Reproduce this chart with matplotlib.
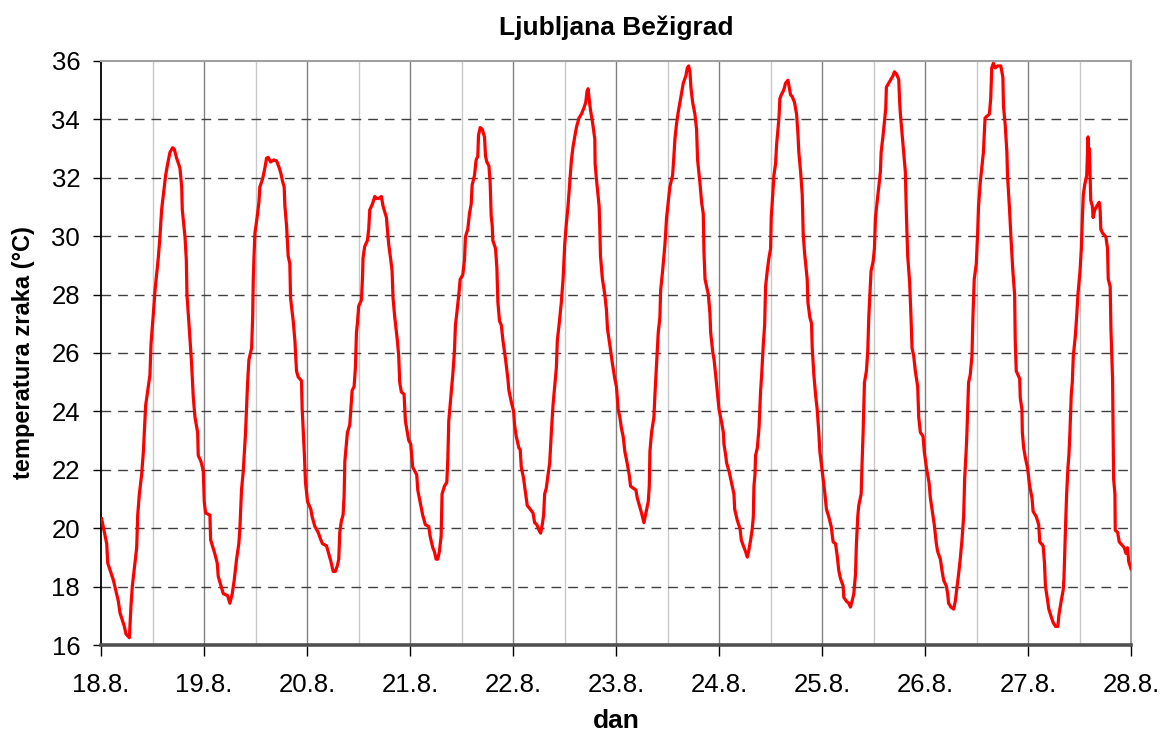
import numpy as np
import matplotlib
matplotlib.use('Agg')
import matplotlib.pyplot as plt

# time in days since 18.8. 00:00, air temperature in deg C
t = [0.006, 0.055, 0.065, 0.120, 0.168, 0.184, 0.226, 0.242, 0.275, 0.291,
     0.304, 0.346, 0.356, 0.372, 0.394, 0.411, 0.420, 0.433, 0.459, 0.475,
     0.485, 0.508, 0.524, 0.543, 0.556, 0.572, 0.588, 0.605, 0.627, 0.647,
     0.669, 0.695, 0.711, 0.734, 0.766, 0.783, 0.789, 0.815, 0.828, 0.834,
     0.857, 0.879, 0.896, 0.912, 0.938, 0.944, 0.970, 0.993, 1.002, 1.015,
     1.057, 1.064, 1.099, 1.128, 1.138, 1.187, 1.229, 1.251, 1.274, 1.293,
     1.316, 1.338, 1.348, 1.364, 1.381, 1.403, 1.423, 1.436, 1.462, 1.472,
     1.478, 1.484, 1.494, 1.510, 1.533, 1.542, 1.568, 1.591, 1.607, 1.623,
     1.646, 1.678, 1.704, 1.730, 1.746, 1.762, 1.778, 1.785, 1.801, 1.817,
     1.833, 1.840, 1.866, 1.882, 1.898, 1.914, 1.946, 1.953, 1.973, 1.985,
     2.005, 2.037, 2.050, 2.076, 2.108, 2.134, 2.150, 2.189, 2.205, 2.231,
     2.244, 2.254, 2.276, 2.296, 2.308, 2.318, 2.334, 2.350, 2.360, 2.367,
     2.392, 2.415, 2.425, 2.438, 2.457, 2.470, 2.480, 2.489, 2.502, 2.528,
     2.538, 2.544, 2.560, 2.586, 2.599, 2.609, 2.635, 2.658, 2.674, 2.696,
     2.722, 2.738, 2.771, 2.780, 2.793, 2.813, 2.826, 2.835, 2.852, 2.877,
     2.890, 2.900, 2.916, 2.942, 2.955, 2.965, 2.987, 3.007,
     3.026, 3.065, 3.075, 3.097, 3.123, 3.149, 3.182, 3.195, 3.221, 3.237,
     3.253, 3.269, 3.285, 3.302, 3.311, 3.334, 3.357, 3.367, 3.376, 3.399,
     3.415, 3.431, 3.441, 3.454, 3.474, 3.487, 3.512, 3.529, 3.538, 3.561,
     3.577, 3.594, 3.603, 3.626, 3.642, 3.658, 3.665, 3.681, 3.701, 3.723,
     3.733, 3.746, 3.766, 3.778, 3.788, 3.798, 3.804, 3.830, 3.843, 3.853,
     3.869, 3.886, 3.902, 3.928, 3.950, 3.960, 3.983, 4.006, 4.015, 4.031,
     4.057, 4.070, 4.080, 4.103, 4.115, 4.138, 4.167, 4.194, 4.210, 4.232,
     4.252, 4.268, 4.284, 4.297, 4.307, 4.323, 4.340, 4.356, 4.372, 4.388,
     4.404, 4.421, 4.430, 4.447, 4.469, 4.486, 4.502, 4.518, 4.534, 4.550,
     4.567, 4.583, 4.599, 4.615, 4.641, 4.664, 4.687, 4.706, 4.719, 4.729,
     4.739, 4.752, 4.771, 4.794, 4.797, 4.810, 4.836, 4.842, 4.849, 4.868,
     4.891, 4.907, 4.917, 4.939, 4.965, 4.988, 5.004, 5.021, 5.037, 5.053,
     5.069, 5.086, 5.108, 5.128, 5.141, 5.167, 5.193, 5.206, 5.232, 5.248,
     5.271, 5.290, 5.313, 5.323, 5.329, 5.345, 5.368, 5.378, 5.394, 5.410,
     5.426, 5.433, 5.452, 5.475, 5.491, 5.507, 5.523, 5.549, 5.562, 5.572,
     5.588, 5.604, 5.621, 5.637, 5.653, 5.679, 5.692, 5.705, 5.718, 5.727,
     5.744, 5.766, 5.782, 5.792, 5.815, 5.831, 5.847, 5.854, 5.864, 5.880,
     5.896, 5.912, 5.919, 5.939, 5.952, 5.971,
     6.000, 6.023, 6.042, 6.048, 6.065, 6.074, 6.097, 6.113, 6.129, 6.145,
     6.152, 6.178, 6.204, 6.216, 6.236, 6.258, 6.275, 6.291, 6.307, 6.323,
     6.333, 6.339, 6.349, 6.355, 6.372, 6.388, 6.397, 6.404, 6.414, 6.430,
     6.443, 6.452, 6.468, 6.485, 6.501, 6.507, 6.517, 6.533, 6.549, 6.559,
     6.572, 6.582, 6.591, 6.604, 6.624, 6.636, 6.646, 6.669, 6.682, 6.695,
     6.711, 6.733, 6.753, 6.766, 6.775, 6.792, 6.808, 6.817, 6.830, 6.856,
     6.863, 6.882, 6.898, 6.905, 6.921, 6.937, 6.953, 6.969, 6.979, 7.002,
     7.024, 7.043, 7.066, 7.089, 7.108, 7.131, 7.147, 7.163, 7.179, 7.205,
     7.212, 7.237, 7.260, 7.276, 7.292, 7.309, 7.325, 7.334, 7.347, 7.357,
     7.380, 7.389, 7.399, 7.405, 7.412, 7.431, 7.444, 7.454, 7.463, 7.476,
     7.496, 7.509, 7.519, 7.535, 7.551, 7.567, 7.574, 7.593, 7.606, 7.619,
     7.625, 7.648, 7.670, 7.690, 7.703, 7.722, 7.745, 7.754, 7.761, 7.777,
     7.793, 7.809, 7.819, 7.832, 7.851, 7.864, 7.874, 7.890, 7.906, 7.929,
     7.939, 7.955, 7.981, 7.993, 8.013, 8.039, 8.052, 8.068, 8.090, 8.110,
     8.123, 8.149, 8.165, 8.181, 8.207, 8.220, 8.229, 8.252, 8.278, 8.294,
     8.310, 8.326, 8.342, 8.359, 8.375, 8.385, 8.401, 8.407, 8.414, 8.423,
     8.439, 8.456, 8.465, 8.478, 8.498, 8.511, 8.520, 8.536,
     8.567, 8.583, 8.606, 8.625, 8.638, 8.648, 8.664, 8.681, 8.704, 8.736,
     8.756, 8.762, 8.779, 8.795, 8.801, 8.821, 8.834, 8.853, 8.870, 8.876,
     8.886, 8.919, 8.925, 8.941, 8.945, 8.958, 8.974, 8.997, 9.016, 9.039,
     9.049, 9.081, 9.104, 9.114, 9.147, 9.160, 9.169, 9.186, 9.202, 9.225,
     9.244, 9.267, 9.290, 9.300, 9.322, 9.342, 9.349, 9.358, 9.365, 9.375,
     9.388, 9.397, 9.407, 9.420, 9.430, 9.440, 9.459, 9.472, 9.485, 9.505,
     9.518, 9.528, 9.537, 9.550, 9.570, 9.577, 9.583, 9.590, 9.596, 9.603,
     9.609, 9.625, 9.632, 9.648, 9.668, 9.691, 9.700, 9.707, 9.723, 9.756,
     9.772, 9.779, 9.798, 9.805, 9.821, 9.831, 9.844, 9.847, 9.870, 9.886,
     9.919, 9.935, 9.951, 9.967, 9.977, 10.000]

temp = [20.32, 19.47, 18.81, 18.22, 17.50, 17.10, 16.64, 16.38, 16.25, 17.36,
        18.02, 19.33, 20.45, 21.17, 21.83, 22.62, 23.28, 24.20, 24.85, 25.25,
        26.30, 27.35, 28.14, 28.80, 29.26, 29.98, 30.90, 31.42, 32.08, 32.48,
        32.87, 33.03, 32.98, 32.67, 32.34, 31.69, 30.90, 29.98, 29.19, 28.01,
        26.83, 25.64, 24.46, 23.80, 23.28, 22.49, 22.29, 21.96, 20.91, 20.52,
        20.45, 19.60, 19.20, 18.81, 18.35, 17.76, 17.69, 17.43, 17.76, 18.22,
        18.94, 19.47, 19.99, 21.31, 21.96, 23.28, 24.99, 25.77, 26.17, 27.22,
        28.53, 29.19, 30.11, 30.50, 31.16, 31.69, 31.95, 32.34, 32.67, 32.70,
        32.54, 32.61, 32.58, 32.34, 32.15, 31.88, 31.69, 31.03, 30.37, 29.32,
        29.06, 27.88, 27.09, 26.43, 25.38, 25.18, 25.05, 24.07, 22.62, 21.57,
        20.91, 20.65, 20.39, 20.06, 19.86, 19.60, 19.47, 19.40, 19.20, 18.87,
        18.68, 18.52, 18.52, 18.74, 18.94, 19.86, 20.26, 20.45, 21.11, 22.29,
        23.28, 23.54, 24.07, 24.72, 24.85, 25.51, 26.70, 27.02, 27.61, 27.81,
        28.53, 29.26, 29.65, 29.85, 30.24, 30.90, 31.10, 31.36, 31.29, 31.29,
        31.36, 31.03, 30.64, 30.24, 29.72, 29.19, 28.80, 27.88, 27.22, 26.43,
        25.91, 24.99, 24.66, 24.59, 23.67, 23.47, 23.01, 22.88,
        22.09, 21.83, 21.31, 20.91, 20.45, 20.12, 20.06, 19.73, 19.33, 19.20,
        18.94, 18.94, 19.20, 19.73, 21.17, 21.44, 21.57, 22.36, 23.67, 24.59,
        25.25, 26.04, 26.96, 27.35, 28.01, 28.53, 28.67, 29.19, 29.98, 30.24,
        30.77, 31.10, 31.75, 32.08, 32.61, 32.74, 33.46, 33.72, 33.66, 33.40,
        32.74, 32.54, 32.41, 31.82, 30.70, 30.37, 29.85, 29.58, 28.93, 27.74,
        27.09, 26.96, 26.43, 25.77, 25.12, 24.72, 24.33, 24.00, 23.54, 23.15,
        22.75, 22.69, 22.09, 21.70, 21.37, 20.78, 20.65, 20.52, 20.19, 20.12,
        19.93, 19.83, 20.12, 20.45, 21.17, 21.37, 21.83, 22.23, 23.28, 24.20,
        24.85, 25.51, 26.43, 26.96, 27.74, 28.53, 29.72, 30.44, 31.03, 31.82,
        32.61, 33.07, 33.40, 33.72, 34.05, 34.18, 34.38, 34.58, 34.97, 35.05,
        34.71, 34.32, 33.92, 33.33, 32.48, 31.95, 31.03, 30.37, 29.32, 28.53,
        28.01, 27.48, 26.83, 26.30, 25.64, 25.12, 24.85, 24.07, 23.80, 23.41,
        23.15, 22.62, 22.23, 21.83, 21.44, 21.37, 21.31, 21.04, 20.71, 20.52,
        20.19, 20.52, 20.91, 21.44, 22.62, 23.28, 23.80, 24.59, 25.64, 26.70,
        27.22, 28.14, 28.80, 29.72, 30.64, 31.16, 31.69, 32.08, 32.74, 33.33,
        33.86, 34.25, 34.58, 34.91, 35.24, 35.50, 35.76, 35.83, 35.63, 35.10,
        34.58, 34.18, 33.66, 32.61, 31.82, 31.16, 30.77, 29.45, 28.53, 28.27,
        28.01, 27.35, 26.70, 26.04, 25.77, 25.12,
        24.07, 23.67, 23.28, 22.88, 22.49, 22.23, 21.96, 21.70, 21.44, 21.17,
        20.65, 20.26, 19.99, 19.60, 19.40, 19.20, 19.01, 19.27, 19.60, 19.99,
        20.39, 21.44, 21.83, 22.49, 22.75, 23.41, 24.20, 24.72, 25.25, 26.30,
        26.96, 28.27, 28.80, 29.26, 29.58, 30.64, 31.16, 32.08, 32.48, 33.13,
        33.66, 34.05, 34.71, 34.84, 34.97, 35.10, 35.24, 35.34, 35.10, 34.84,
        34.78, 34.58, 34.18, 33.53, 32.87, 32.21, 31.42, 30.11, 29.45, 28.53,
        27.74, 27.22, 27.02, 26.17, 25.25, 24.59, 24.07, 23.28, 22.62, 21.96,
        21.31, 20.65, 20.39, 20.06, 19.53, 19.47, 19.07, 18.55, 18.28, 18.02,
        17.63, 17.50, 17.43, 17.30, 17.50, 17.76, 18.42, 19.47, 20.39, 20.78,
        21.17, 22.23, 23.28, 24.07, 24.99, 25.38, 26.04, 27.22, 27.88, 28.80,
        29.13, 29.58, 30.64, 31.16, 31.69, 32.21, 32.87, 33.46, 33.92, 34.38,
        35.10, 35.24, 35.37, 35.50, 35.63, 35.56, 35.37, 34.58, 34.18, 33.53,
        32.87, 32.21, 30.77, 29.32, 28.40, 27.22, 26.17, 25.91, 25.38, 24.85,
        23.80, 23.28, 23.15, 22.62, 22.09, 21.57, 21.04, 20.65, 20.12, 19.47,
        19.20, 18.94, 18.55, 18.22, 18.02, 17.76, 17.43, 17.30, 17.23, 17.50,
        17.96, 18.42, 18.94, 19.60, 20.39, 21.70, 22.75, 23.28, 24.07, 24.99,
        25.25, 25.91, 27.22, 28.53, 29.06, 30.11, 31.03, 31.82,
        32.87, 34.05, 34.12, 34.18, 34.71, 35.76, 35.92, 35.76, 35.83, 35.83,
        35.44, 34.45, 33.79, 32.87, 32.08, 30.90, 29.98, 28.80, 28.01, 26.43,
        25.38, 25.12, 24.46, 24.07, 23.28, 22.75, 22.42, 22.03, 21.44, 21.04,
        20.58, 20.39, 20.12, 19.53, 19.40, 18.81, 18.02, 17.63, 17.23, 16.97,
        16.77, 16.64, 16.64, 17.03, 17.50, 17.89, 18.28, 19.33, 20.12, 21.17,
        22.09, 22.49, 23.28, 24.59, 24.99, 25.91, 26.56, 27.22, 28.01, 28.80,
        29.58, 30.64, 31.42, 31.75, 32.08, 32.74, 33.40, 32.74, 33.00, 32.08,
        31.23, 31.03, 30.64, 30.90, 31.03, 31.16, 30.90, 30.24, 30.11, 29.98,
        29.58, 28.53, 28.27, 26.83, 25.12, 21.70, 21.17, 19.93, 19.86, 19.53,
        19.40, 19.33, 19.14, 19.33, 18.87, 18.61]

day_labels = ['18.8.', '19.8.', '20.8.', '21.8.', '22.8.', '23.8.',
              '24.8.', '25.8.', '26.8.', '27.8.', '28.8.']
y_ticks = [16, 18, 20, 22, 24, 26, 28, 30, 32, 34, 36]

plt.rcParams['font.family'] = ['Liberation Sans', 'DejaVu Sans']

fig = plt.figure(figsize=(11.6, 7.31), dpi=100)
ax = fig.add_axes([0.0871, 0.1176, 0.8879, 0.799])

# vertical grid: dark at midnight, light at noon
for d in range(1, len(day_labels) - 1):
    ax.axvline(d, color='#808080', lw=1.0, zorder=1)
for d in range(len(day_labels) - 1):
    ax.axvline(d + 0.5, color='#c8c8c8', lw=1.0, zorder=1)
# horizontal dashed grid
for y in y_ticks[1:-1]:
    ax.axhline(y, color='#404040', lw=1.0, ls=(0, (7, 5)), zorder=1)

ax.plot(t, temp, color='#ff0000', lw=2.3, zorder=3)

ax.set_xlim(0, len(day_labels) - 1)
ax.set_ylim(16, 36)
ax.set_xticks(range(len(day_labels)))
ax.set_xticklabels(day_labels)
ax.set_yticks(y_ticks)

ax.tick_params(axis='both', direction='out', labelsize=18.5, colors='black')
ax.tick_params(axis='y', length=6, width=1, pad=9)
ax.tick_params(axis='x', length=8, width=1, pad=12)

ax.spines['left'].set_color('black')
ax.spines['left'].set_linewidth(1.3)
ax.spines['bottom'].set_color('#505050')
ax.spines['bottom'].set_linewidth(2.6)
ax.spines['top'].set_color('#a0a0a0')
ax.spines['top'].set_linewidth(1.5)
ax.spines['right'].set_color('#a0a0a0')
ax.spines['right'].set_linewidth(1.5)

ax.set_title('Ljubljana Bežigrad', fontsize=19, fontweight='bold', pad=19)
ax.set_xlabel('dan', fontsize=19, fontweight='bold', labelpad=9)
ax.set_ylabel('temperatura zraka (°C)', fontsize=17, fontweight='bold', labelpad=12)

fig.savefig('out.png', dpi=100)
